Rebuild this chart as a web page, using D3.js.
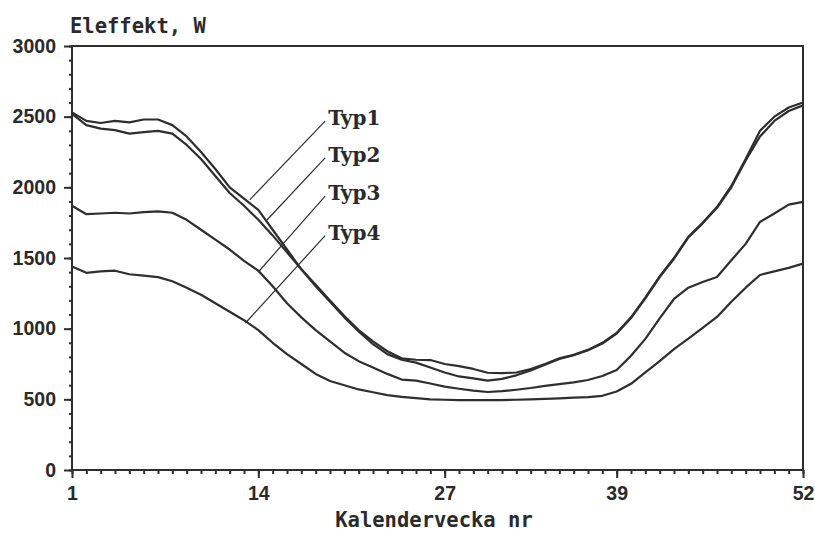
<!DOCTYPE html>
<html>
<head>
<meta charset="utf-8">
<script src="https://d3js.org/d3.v7.min.js"></script>
<style>
  body { margin: 0; background: #fff; }
  svg text { fill: #2a2a2a; }
</style>
</head>
<body>
<svg id="chart" width="815" height="533"></svg>
<script>
// kalendervecka 1..52
const weeks = d3.range(1, 53);

// eleffekt (W) per typ
const typ1 = [2530, 2470, 2455, 2470, 2460, 2480, 2480, 2440, 2360, 2250,
              2130, 2000, 1920, 1840, 1700, 1560, 1420, 1310, 1200, 1090,
              990, 910, 840, 790, 780, 778, 750, 735, 715, 688,
              686, 690, 715, 750, 790, 815, 850, 900, 970, 1080,
              1220, 1370, 1500, 1650, 1750, 1860, 2010, 2200, 2400, 2500,
              2565, 2600];
const typ2 = [2520, 2440, 2415, 2405, 2380, 2390, 2400, 2380, 2300, 2200,
              2080, 1960, 1870, 1770, 1660, 1540, 1420, 1300, 1190, 1080,
              980, 890, 820, 780, 760, 725, 690, 662, 648, 632,
              645, 670, 705, 745, 785, 812, 848, 895, 965, 1075,
              1215, 1365, 1495, 1645, 1745, 1855, 2000, 2190, 2360, 2470,
              2540, 2580];
const typ3 = [1870, 1810, 1815, 1820, 1815, 1825, 1830, 1820, 1770, 1700,
              1630, 1560, 1480, 1410, 1300, 1180, 1080, 990, 910, 830,
              770, 725, 680, 640, 632, 612, 590, 575, 562, 552,
              558, 568, 580, 595, 608, 620, 637, 665, 708, 808,
              928, 1073, 1210, 1290, 1330, 1366, 1484, 1600, 1755, 1815,
              1878, 1897];
const typ4 = [1440, 1395, 1405, 1410, 1385, 1375, 1365, 1335, 1290, 1240,
              1180, 1120, 1060, 990, 900, 820, 750, 680, 630, 600,
              570, 550, 530, 518, 508, 500, 497, 495, 495, 495,
              495, 497, 500, 503, 507, 512, 516, 525, 555, 610,
              690, 770, 855, 930, 1005, 1083, 1190, 1290, 1380, 1405,
              1430, 1460];

const seriesNames = ['Typ1', 'Typ2', 'Typ3', 'Typ4'];
const seriesValues = [typ1, typ2, typ3, typ4];

// label anchor (week, W) and where its leader line points to (week, W)
const labelAt = [[18.8, 2440], [18.8, 2180], [18.8, 1910], [18.8, 1630]];
const pointTo = [[13.4, 1911], [14.6, 1769], [14.0, 1401], [13.1, 1040]];

const xTicks = [1, 14, 27, 39, 52];
const yTicks = [0, 500, 1000, 1500, 2000, 2500, 3000];

const svg = d3.select('#chart');
const ink = '#2e2e2e';

const x = d3.scaleLinear().domain([1, 52]).range([72, 803]);
const y = d3.scaleLinear().domain([0, 3000]).range([470, 46]);

// frame
svg.append('rect')
  .attr('x', x(1)).attr('y', y(3000))
  .attr('width', x(52) - x(1)).attr('height', y(0) - y(3000))
  .attr('fill', 'none').attr('stroke', ink).attr('stroke-width', 2);

// y axis: minor every 100, major every 500
svg.append('g')
  .attr('transform', 'translate(' + x(1) + ',0)')
  .call(d3.axisLeft(y).tickValues(d3.range(0, 3001, 100)).tickSize(3).tickFormat(''))
  .call(g => g.select('.domain').remove())
  .call(g => g.selectAll('line').attr('stroke', ink).attr('stroke-width', 2));

svg.append('g')
  .attr('transform', 'translate(' + x(1) + ',0)')
  .call(d3.axisLeft(y).tickValues(yTicks).tickSize(8).tickPadding(8).tickFormat(d3.format('d')))
  .call(g => g.select('.domain').remove())
  .call(g => g.selectAll('line').attr('stroke', ink).attr('stroke-width', 2))
  .call(g => g.selectAll('text')
    .attr('font-family', '"Liberation Sans", Arial, sans-serif')
    .attr('font-weight', 'bold').attr('font-size', 19.5).attr('fill', ink));

// x axis: minor every week, labelled weeks
svg.append('g')
  .attr('transform', 'translate(0,' + y(0) + ')')
  .call(d3.axisBottom(x).tickValues(weeks).tickSize(4).tickFormat(''))
  .call(g => g.select('.domain').remove())
  .call(g => g.selectAll('line').attr('stroke', ink).attr('stroke-width', 2));

svg.append('g')
  .attr('transform', 'translate(0,' + y(0) + ')')
  .call(d3.axisBottom(x).tickValues(xTicks).tickSize(8).tickPadding(8).tickFormat(d3.format('d')))
  .call(g => g.select('.domain').remove())
  .call(g => g.selectAll('line').attr('stroke', ink).attr('stroke-width', 2))
  .call(g => g.selectAll('text')
    .attr('font-family', '"Liberation Sans", Arial, sans-serif')
    .attr('font-weight', 'bold').attr('font-size', 19.5).attr('fill', ink));

// lines
const line = d3.line()
  .x((d, i) => x(weeks[i]))
  .y(d => y(d));

svg.append('g').selectAll('path')
  .data(seriesValues)
  .enter().append('path')
  .attr('d', line)
  .attr('fill', 'none')
  .attr('stroke', ink)
  .attr('stroke-width', 2.2)
  .attr('stroke-linejoin', 'round');

// leader lines + labels
const labels = svg.append('g');
seriesNames.forEach((name, i) => {
  labels.append('line')
    .attr('x1', x(labelAt[i][0]) - 2).attr('y1', y(labelAt[i][1]) - 4)
    .attr('x2', x(pointTo[i][0])).attr('y2', y(pointTo[i][1]))
    .attr('stroke', ink).attr('stroke-width', 1.2);
  labels.append('text')
    .attr('x', x(labelAt[i][0]) + 1).attr('y', y(labelAt[i][1]))
    .attr('font-family', '"DejaVu Serif", serif')
    .attr('font-weight', 'bold').attr('font-size', 20)
    .text(name);
});

// titles
svg.append('text')
  .attr('x', 70).attr('y', 33)
  .attr('font-family', '"DejaVu Sans Mono", monospace')
  .attr('font-weight', 'bold').attr('font-size', 20.5)
  .text('Eleffekt, W');

svg.append('text')
  .attr('x', 434).attr('y', 527)
  .attr('text-anchor', 'middle')
  .attr('font-family', '"DejaVu Sans Mono", monospace')
  .attr('font-weight', 'bold').attr('font-size', 20.5)
  .text('Kalendervecka nr');
</script>
</body>
</html>
